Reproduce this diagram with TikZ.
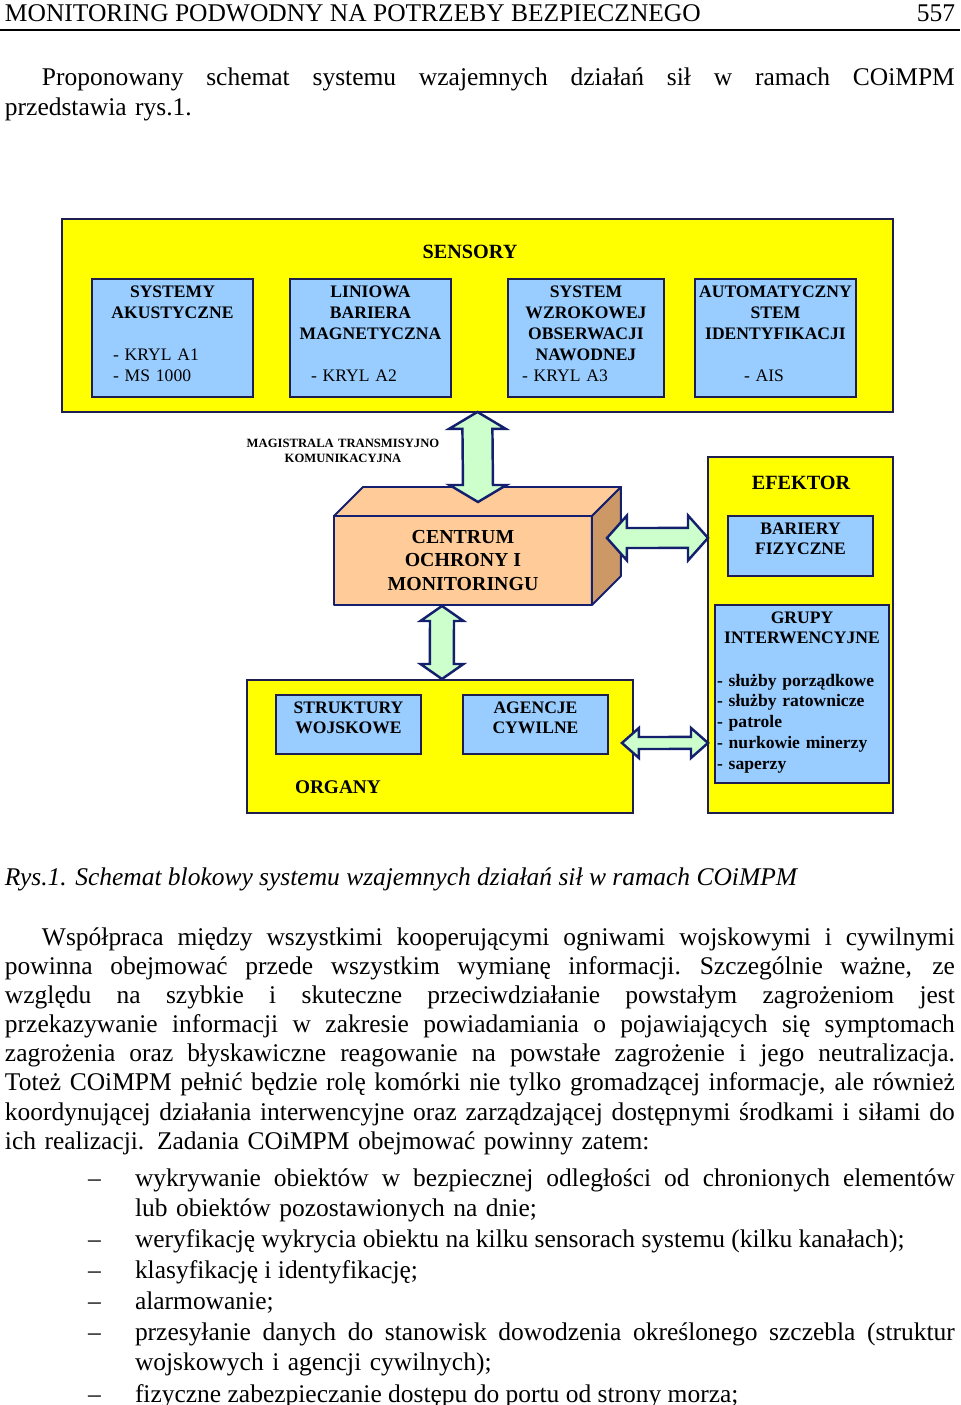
\documentclass[tikz,border=0pt]{standalone}
\usepackage{fontspec}
\setmainfont{Liberation Serif}
\usetikzlibrary{calc,positioning}

\definecolor{panelyellow}{HTML}{FFFF00}
\definecolor{boxblue}{HTML}{99CCFF}
\definecolor{arrowgreen}{HTML}{CCFFCC}
\definecolor{cubefront}{HTML}{FFCC99}
\definecolor{cubeside}{HTML}{CC9966}
\definecolor{edgenavy}{HTML}{14206E}
\definecolor{boxedge}{HTML}{1E1E50}

\newcommand{\bodyfont}{\fontsize{14.5pt}{16.6pt}\selectfont}
\newcommand{\listfont}{\fontsize{14.5pt}{17.4pt}\selectfont}
% justified line of a given width
\newcommand{\jline}[2]{\leavevmode\hbox to #1{\spaceskip=0.25em plus 1em minus 0.05em\xspaceskip=0.3em plus 1em minus 0.05em\relax #2}}
% fat double arrows: from, to, half shaft, half head, head length
\newcommand{\biarrowV}[5]{%
  \draw[fatarrow] (#1) -- ($(#1)+(#4,#5)$) -- ($(#1)+(#3,#5)$) -- ($(#2)+(#3,-#5)$) -- ($(#2)+(#4,-#5)$)
    -- (#2) -- ($(#2)+(-#4,-#5)$) -- ($(#2)+(-#3,-#5)$) -- ($(#1)+(-#3,#5)$) -- ($(#1)+(-#4,#5)$) -- cycle;}
\newcommand{\biarrowH}[5]{%
  \draw[fatarrow] (#1) -- ($(#1)+(#5,-#4)$) -- ($(#1)+(#5,-#3)$) -- ($(#2)+(-#5,-#3)$) -- ($(#2)+(-#5,-#4)$)
    -- (#2) -- ($(#2)+(-#5,#4)$) -- ($(#2)+(-#5,#3)$) -- ($(#1)+(#5,#3)$) -- ($(#1)+(#5,#4)$) -- cycle;}

\begin{document}
\begin{tikzpicture}[x=0.02cm,y=-0.02cm,
  every node/.style={inner sep=0pt,outer sep=0pt},
  pagetxt/.style={font=\bodyfont},
  ybox/.style={draw=boxedge,fill=panelyellow,line width=1.1pt,anchor=north west},
  bbox/.style={draw=boxedge,fill=boxblue,line width=1.1pt,anchor=north west},
  ttl/.style={font=\fontsize{11.5pt}{13pt}\selectfont\bfseries},
  btxt/.style={font=\fontsize{10pt}{11.9pt}\selectfont\bfseries,align=center,text width=3.3cm},
  ltxt/.style={font=\fontsize{10pt}{11.9pt}\selectfont\bfseries,align=left,text width=3.4cm},
  rtxt/.style={font=\fontsize{10pt}{11.9pt}\selectfont,align=left,text width=2.4cm},
  fatarrow/.style={draw=edgenavy,fill=arrowgreen,line width=1.4pt,line join=miter},
  cubeline/.style={draw=edgenavy,line width=1.1pt,line join=round}]
\path[use as bounding box,fill=white] (0,0) rectangle (960,1405);

% page text above the figure
\node[pagetxt,anchor=base west] (runhead) at (5,22) {MONITORING PODWODNY NA POTRZEBY BEZPIECZNEGO};
\node[pagetxt,anchor=base east] (pageno) at (955,22) {557};
\draw[line width=1.2pt] (0,30) -- (960,30);
\node[pagetxt,text width=19cm,anchor=base west] (intro) at (5,86)
  {\hspace*{0.74cm}\jline{18.26cm}{Proponowany schemat systemu wzajemnych działań sił w ramach COiMPM}\\
   przedstawia rys.1.};

% sensors
\node[ybox,minimum width=16.62cm,minimum height=3.86cm] (sensory) at (62,219) {};
\node[ttl,anchor=base] (sensoryttl) at (470,259) {SENSORY};
\node[bbox,minimum width=3.22cm,minimum height=2.36cm] (akust) at (92,279) {};
\node[bbox,minimum width=3.22cm,minimum height=2.36cm] (magn) at (290,279) {};
\node[bbox,minimum width=3.12cm,minimum height=2.36cm] (wzrok) at (508,279) {};
\node[bbox,minimum width=3.22cm,minimum height=2.36cm] (ais) at (695,279) {};
\node[btxt,anchor=base] (akustttl) at ($(akust.north)+(0,18.5)$) {SYSTEMY\\AKUSTYCZNE};
\node[btxt,anchor=base] (magnttl) at ($(magn.north)+(0,18.5)$) {LINIOWA\\BARIERA\\MAGNETYCZNA};
\node[btxt,anchor=base] (wzrokttl) at ($(wzrok.north)+(0,18.5)$) {SYSTEM\\WZROKOWEJ\\OBSERWACJI\\NAWODNEJ};
\node[btxt,anchor=base] (aisttl) at ($(ais.north)+(0,18.5)$) {AUTOMATYCZNY\\STEM\\IDENTYFIKACJI};
\node[rtxt,anchor=base west] (akustlst) at ($(akust.north west)+(21,81.5)$) {- KRYL A1\\- MS 1000};
\node[rtxt,anchor=base west] (magnlst) at ($(magn.north west)+(21,102.5)$) {- KRYL A2};
\node[rtxt,anchor=base west] (wzroklst) at ($(wzrok.north west)+(14,102.5)$) {- KRYL A3};
\node[rtxt,anchor=base west] (aislst) at ($(ais.north west)+(49,102.5)$) {- AIS};

\node[font=\fontsize{7.2pt}{9pt}\selectfont\bfseries,align=center,text width=4cm,anchor=base] (bus) at (343,447)
  {MAGISTRALA TRANSMISYJNO\\KOMUNIKACYJNA};

% centre (box drawn as a cube)
\node[cubeline,fill=cubefront,minimum width=5.16cm,minimum height=1.78cm,anchor=north west,
  font=\fontsize{11.3pt}{13.3pt}\selectfont\bfseries,align=center] (centrum) at (334,516)
  {CENTRUM\\OCHRONY I\\MONITORINGU};
\draw[cubeline,fill=cubefront] (centrum.north west) -- ++(29,-29) -- ++(258,0) -- (centrum.north east) -- cycle;
\draw[cubeline,fill=cubeside] (centrum.north east) -- ++(29,-29) -- ++(0,89) -- (centrum.south east) -- cycle;

% effector
\node[ybox,minimum width=3.70cm,minimum height=7.12cm] (efektor) at (708,457) {};
\node[ttl,anchor=base] (efektorttl) at (801,489) {EFEKTOR};
\node[bbox,minimum width=2.90cm,minimum height=1.20cm] (bariery) at (728,516) {};
\node[btxt,anchor=base] (barieryttl) at ($(bariery.north)+(0,18)$) {BARIERY\\FIZYCZNE};
\node[bbox,minimum width=3.48cm,minimum height=3.56cm] (grupy) at (715,605) {};
\node[btxt,anchor=base] (grupyttl) at ($(grupy.north)+(0,18)$) {GRUPY\\INTERWENCYJNE};
\node[ltxt,anchor=base west] (grupylst) at ($(grupy.north west)+(2,81)$)
  {- służby porządkowe\\- służby ratownicze\\- patrole\\- nurkowie minerzy\\- saperzy};

% authorities
\node[ybox,minimum width=7.72cm,minimum height=2.66cm] (organy) at (247,680) {};
\node[bbox,minimum width=2.90cm,minimum height=1.18cm] (wojsko) at (276,695) {};
\node[bbox,minimum width=2.90cm,minimum height=1.18cm] (agencje) at (463,695) {};
\node[btxt,anchor=base] (wojskottl) at ($(wojsko.north)+(0,18)$) {STRUKTURY\\WOJSKOWE};
\node[btxt,anchor=base] (agencjettl) at ($(agencje.north)+(0,18)$) {AGENCJE\\CYWILNE};
\node[ttl,font=\fontsize{11pt}{13pt}\selectfont\bfseries,anchor=base west] (organyttl) at (295,793) {ORGANY};

% links
\coordinate (busT) at (sensory.south);
\coordinate (busB) at ($(centrum.north)+(15,-14)$);
\coordinate (orgT) at ($(centrum.south)+(-21,1)$);
\coordinate (orgB) at ($(organy.north)+(2,-1)$);
\coordinate (effL) at ($(centrum.east)+(15,-22.5)$);
\coordinate (effR) at ($(efektor.west)+(0,-97)$);
\coordinate (grpL) at ($(organy.east)+(-11,-3.5)$);
\coordinate (grpR) at ($(efektor.west)+(0,108)$);
\biarrowV{busT}{busB}{15}{28.5}{17}
\biarrowV{orgT}{orgB}{12}{21.5}{15}
\biarrowH{effL}{effR}{10}{22.5}{20}
\biarrowH{grpL}{grpR}{6}{15}{17}

% page text below the figure
\node[pagetxt,font=\bodyfont\itshape,anchor=base west] (caption) at (5,885)
  {Rys.1. Schemat blokowy systemu wzajemnych działań sił w ramach COiMPM};
\node[pagetxt,text width=19cm,anchor=base west] (para) at (5,945)
  {\hspace*{0.74cm}\jline{18.26cm}{Współpraca między wszystkimi kooperującymi ogniwami wojskowymi i cywilnymi}\\
   \jline{19cm}{powinna obejmować przede wszystkim wymianę informacji. Szczególnie ważne, ze}\\
   \jline{19cm}{względu na szybkie i skuteczne przeciwdziałanie powstałym zagrożeniom jest}\\
   \jline{19cm}{przekazywanie informacji w zakresie powiadamiania o pojawiających się symptomach}\\
   \jline{19cm}{zagrożenia oraz błyskawiczne reagowanie na powstałe zagrożenie i jego neutralizacja.}\\
   \jline{19cm}{Toteż COiMPM pełnić będzie rolę komórki nie tylko gromadzącej informacje, ale również}\\
   \jline{19cm}{koordynującej działania interwencyjne oraz zarządzającej dostępnymi środkami i siłami do}\\
   ich realizacji. Zadania COiMPM obejmować powinny zatem:};

\node[pagetxt,anchor=base west] (dash1) at (88,1186) {\textendash};
\node[pagetxt,anchor=base west] (dash2) at (88,1247) {\textendash};
\node[pagetxt,anchor=base west] (dash3) at (88,1278) {\textendash};
\node[pagetxt,anchor=base west] (dash4) at (88,1309) {\textendash};
\node[pagetxt,anchor=base west] (dash5) at (88,1340) {\textendash};
\node[pagetxt,anchor=base west] (dash6) at (88,1402) {\textendash};
\node[pagetxt,font=\listfont,text width=16.4cm,anchor=base west] (task1) at (135,1186)
  {\jline{16.4cm}{wykrywanie obiektów w bezpiecznej odległości od chronionych elementów}\\
   lub obiektów pozostawionych na dnie;};
\node[pagetxt,anchor=base west] (task2) at (135,1247) {weryfikację wykrycia obiektu na kilku sensorach systemu (kilku kanałach);};
\node[pagetxt,anchor=base west] (task3) at (135,1278) {klasyfikację i identyfikację;};
\node[pagetxt,anchor=base west] (task4) at (135,1309) {alarmowanie;};
\node[pagetxt,font=\listfont,text width=16.4cm,anchor=base west] (task5) at (135,1340)
  {\jline{16.4cm}{przesyłanie danych do stanowisk dowodzenia określonego szczebla (struktur}\\
   wojskowych i agencji cywilnych);};
\node[pagetxt,anchor=base west] (task6) at (135,1402) {fizyczne zabezpieczanie dostępu do portu od strony morza;};
\end{tikzpicture}
\end{document}
